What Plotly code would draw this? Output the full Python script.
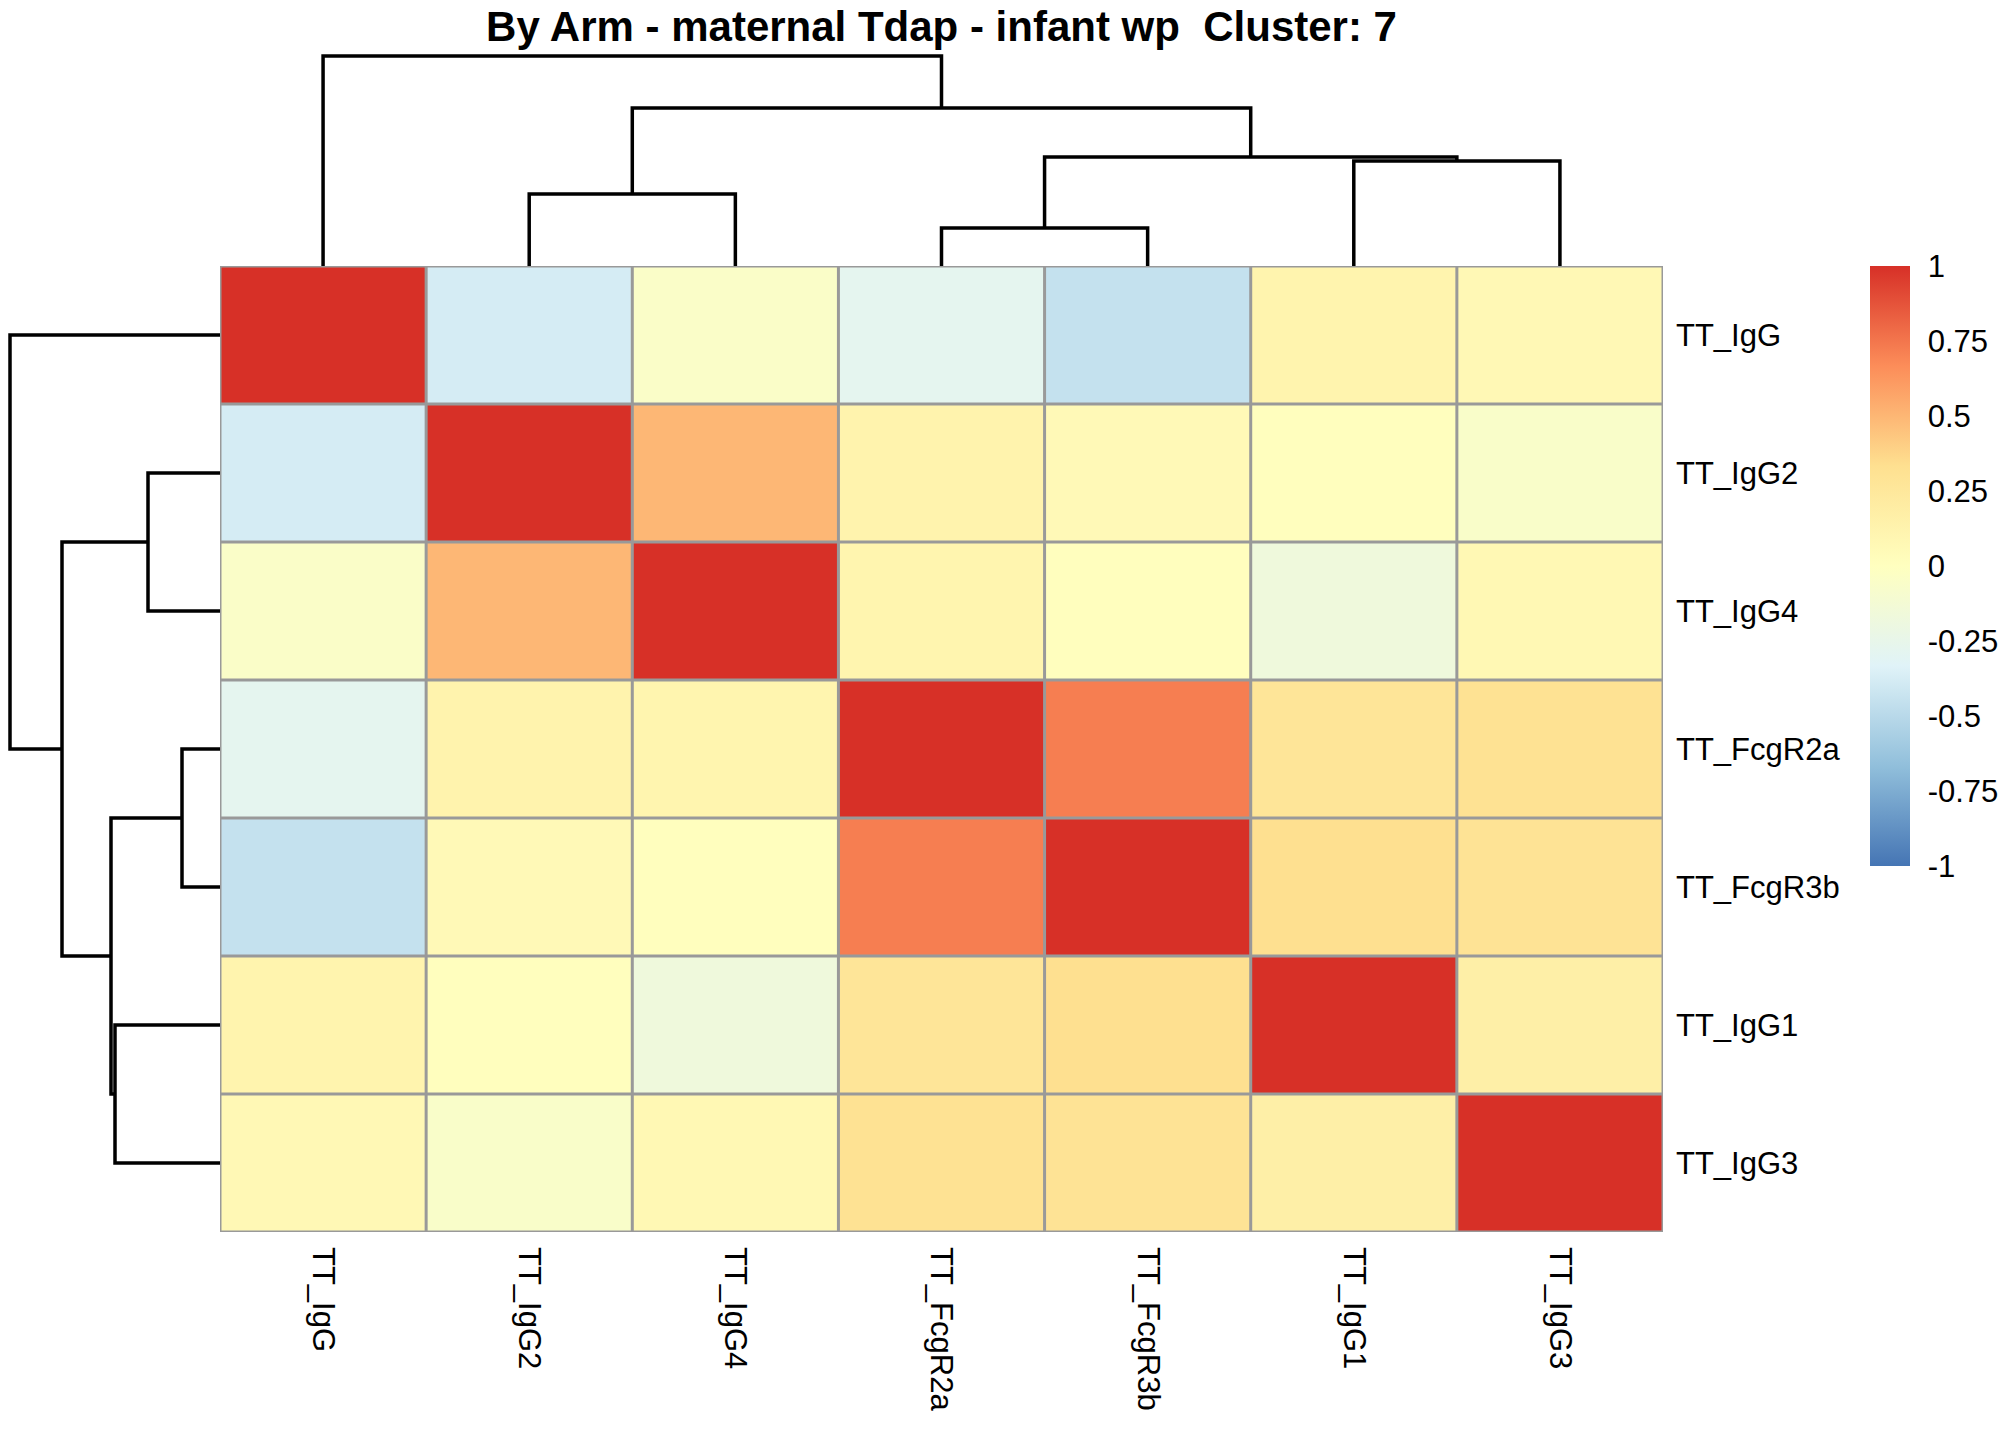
import plotly.graph_objects as go

# the page body adds an 8px margin, so the figure is 16px smaller than the window
PAGE_PAD = 8
W, H = 2016 - 2 * PAGE_PAD, 1440 - 2 * PAGE_PAD

# leaf order as drawn (same for rows and columns)
labels = ["TT_IgG", "TT_IgG2", "TT_IgG4", "TT_FcgR2a", "TT_FcgR3b", "TT_IgG1", "TT_IgG3"]

# correlation matrix, row by row, in the drawn order
corr = [
    [1.00, -0.38, -0.05, -0.28, -0.45, 0.12, 0.07],
    [-0.38, 1.00, 0.50, 0.13, 0.06, 0.01, -0.06],
    [-0.05, 0.50, 1.00, 0.11, 0.01, -0.17, 0.08],
    [-0.28, 0.13, 0.11, 1.00, 0.72, 0.28, 0.31],
    [-0.45, 0.06, 0.01, 0.72, 1.00, 0.33, 0.30],
    [0.12, 0.01, -0.17, 0.28, 0.33, 1.00, 0.17],
    [0.07, -0.06, 0.08, 0.31, 0.30, 0.17, 1.00],
]

# hierarchical merges: (left node, right node, height); nodes 0-6 are leaves
merges = [
    (3, 4, 38),
    (1, 2, 72),
    (5, 6, 105),
    (7, 9, 109),
    (8, 10, 158),
    (0, 11, 210),
]

cb_ticks = [1, 0.75, 0.5, 0.25, 0, -0.25, -0.5, -0.75, -1]

# pheatmap default: rev(brewer.pal(7, "RdYlBu"))
rdylbu_rev = ["#4575B4", "#91BFDB", "#E0F3F8", "#FFFFBF", "#FEE090", "#FC8D59", "#D73027"]
colorscale = [[i / (len(rdylbu_rev) - 1), c] for i, c in enumerate(rdylbu_rev)]

FONT = "Liberation Sans, Arial, sans-serif"


def dendro_segments(merges, n_leaves):
    """Return (pos, height) line coordinates with None breaks for a dendrogram"""
    pos = {i: float(i) for i in range(n_leaves)}
    hgt = {i: 0.0 for i in range(n_leaves)}
    p_list, h_list = [], []
    for k, (a, b, h) in enumerate(merges):
        node = n_leaves + k
        p_list += [pos[a], pos[a], pos[b], pos[b], None]
        h_list += [hgt[a], h, h, hgt[b], None]
        pos[node] = (pos[a] + pos[b]) / 2
        hgt[node] = h
    return p_list, h_list


def px_x(v):
    return min(max((v - PAGE_PAD) / W, 0), 1)


def px_y(v):
    return min(max(1 - (v - PAGE_PAD) / H, 0), 1)


n = len(labels)
idx = list(range(n))
dp, dh = dendro_segments(merges, n)

# pixel layout in window coordinates
hm_left, hm_right, hm_top, hm_bottom = 220, 1663, 266, 1232
dendro_span = 212

fig = go.Figure()

fig.add_trace(go.Heatmap(
    z=corr, x=idx, y=idx,
    colorscale=colorscale, zmin=-1, zmax=1,
    colorbar=dict(
        x=px_x(1870), xanchor="left", xpad=0,
        y=px_y(566), yanchor="middle", ypad=0,
        thickness=40, thicknessmode="pixels",
        len=600, lenmode="pixels",
        outlinewidth=0,
        tickvals=cb_ticks, ticktext=[str(t) for t in cb_ticks],
        ticks="outside", ticklen=12, tickcolor="rgba(0,0,0,0)",
        tickfont=dict(family=FONT, size=31, color="black"),
    ),
    showscale=True,
    xaxis="x", yaxis="y",
))

# top dendrogram (columns)
fig.add_trace(go.Scatter(
    x=dp, y=dh, mode="lines",
    line=dict(color="black", width=3.5),
    xaxis="x2", yaxis="y2", hoverinfo="skip", showlegend=False,
))

# left dendrogram (rows)
fig.add_trace(go.Scatter(
    x=dh, y=dp, mode="lines",
    line=dict(color="black", width=3.5),
    xaxis="x3", yaxis="y3", hoverinfo="skip", showlegend=False,
))

# cell borders
grid = []
for i in range(n + 1):
    grid.append(dict(type="line", xref="x", yref="y", x0=i - 0.5, x1=i - 0.5, y0=-0.5, y1=n - 0.5,
                     line=dict(color="#999999", width=3), layer="above"))
    grid.append(dict(type="line", xref="x", yref="y", y0=i - 0.5, y1=i - 0.5, x0=-0.5, x1=n - 0.5,
                     line=dict(color="#999999", width=3), layer="above"))

hidden = dict(visible=False, showgrid=False, zeroline=False, fixedrange=True)

fig.update_layout(
    width=W, height=H,
    margin=dict(l=0, r=0, t=0, b=0),
    paper_bgcolor="white", plot_bgcolor="white",
    font=dict(family=FONT, color="black"),
    title=dict(
        text="<b>By Arm - maternal Tdap - infant wp \u00a0Cluster: 7</b>",
        x=px_x((hm_left + hm_right) / 2), xanchor="center",
        y=px_y(26), yanchor="middle", yref="container",
        font=dict(family=FONT, size=42, color="black"),
    ),
    shapes=grid,
    xaxis=dict(
        domain=[px_x(hm_left), px_x(hm_right)], range=[-0.5, n - 0.5],
        tickvals=idx, ticktext=labels, tickangle=90, ticks="",
        ticklabelstandoff=14,
        tickfont=dict(family=FONT, size=31, color="black"),
        showgrid=False, zeroline=False, showline=False, fixedrange=True,
    ),
    yaxis=dict(
        domain=[px_y(hm_bottom), px_y(hm_top)], range=[n - 0.5, -0.5],
        tickvals=idx, ticktext=labels, side="right", ticks="",
        ticklabelstandoff=12,
        tickfont=dict(family=FONT, size=31, color="black"),
        showgrid=False, zeroline=False, showline=False, fixedrange=True,
    ),
    xaxis2=dict(domain=[px_x(hm_left), px_x(hm_right)], range=[-0.5, n - 0.5], anchor="y2", **hidden),
    yaxis2=dict(domain=[px_y(hm_top), px_y(hm_top - dendro_span)], range=[0, dendro_span],
                anchor="x2", **hidden),
    xaxis3=dict(domain=[px_x(hm_left - dendro_span), px_x(hm_left)], range=[dendro_span, 0],
                anchor="y3", **hidden),
    yaxis3=dict(domain=[px_y(hm_bottom), px_y(hm_top)], range=[n - 0.5, -0.5], anchor="x3", **hidden),
)

fig.write_html("out.html")
